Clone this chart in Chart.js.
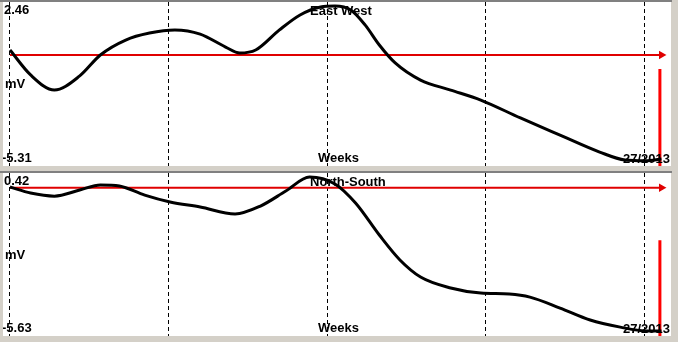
<!DOCTYPE html>
<html>
<head>
<meta charset="utf-8">
<script src="https://cdn.jsdelivr.net/npm/chart.js@4/dist/chart.umd.min.js"></script>
<style>
  html, body { margin:0; padding:0; }
  body { width:678px; height:342px; background:#d4d0c8; position:relative; overflow:hidden; }
  .topline { position:absolute; left:0; top:0; width:672px; height:2px; background:#808080; }
  .sep { position:absolute; left:0; top:171px; width:672px; height:2px; background:#808080; }
  .panel { position:absolute; left:3px; width:668px; background:#fff; }
  #p1 { top:2px; height:164px; }
  #p2 { top:173px; height:163px; }
  canvas { display:block; }
</style>
</head>
<body>
<div class="topline"></div>
<div class="sep"></div>
<div class="panel" id="p1"><canvas id="c1" width="668" height="164"></canvas></div>
<div class="panel" id="p2"><canvas id="c2" width="668" height="163"></canvas></div>
<script>
// ---- data ----
const titles = ['East West', 'North-South'];
const topLabels = ['2.46', '0.42'];
const bottomLabels = ['-5.31', '-5.63'];
const unitLabel = 'mV';
const xLabel = 'Weeks';
const dateLabel = '27/2013';

const weeksEW = [0.00,0.13,0.28,0.44,0.57,0.73,0.88,1.04,1.20,1.36,1.45,1.55,1.70,1.83,1.96,2.05,2.15,2.24,2.33,2.43,2.59,2.78,2.97,3.22,3.47,3.72,3.88,4.01,4.11];
const mvEW    = [0.25,-1.00,-1.76,-1.05,0.00,0.75,1.10,1.26,1.05,0.40,0.10,0.25,1.26,2.01,2.41,2.46,2.26,1.51,0.50,-0.40,-1.26,-1.76,-2.26,-3.16,-4.02,-4.87,-5.27,-5.31,-5.22];

const weeksNS = [0.00,0.13,0.28,0.44,0.57,0.69,0.85,1.01,1.20,1.42,1.58,1.74,1.89,2.05,2.18,2.33,2.46,2.59,2.78,2.97,3.15,3.28,3.47,3.66,3.85,4.01,4.11];
const mvNS    = [0.03,-0.21,-0.33,-0.09,0.11,0.07,-0.29,-0.56,-0.76,-1.03,-0.72,-0.13,0.42,0.15,-0.60,-1.86,-2.84,-3.51,-3.94,-4.14,-4.18,-4.30,-4.73,-5.20,-5.48,-5.63,-5.63];

const refLevel = [0, 0];
const refEndWeek = [4.11, 4.11];
const markerWeek = [4.10, 4.10];
const markerTop = [-0.70, -2.06];

const yRanges = [[-5.57, 2.66], [-5.83, 0.58]];
const xRange = [-0.044, 4.17];

const textPlugin = {
  id: 'panelText',
  afterDraw(chart, args, opts) {
    const ctx = chart.ctx;
    const a = chart.chartArea;
    ctx.save();
    ctx.fillStyle = '#000';
    ctx.font = 'bold 13px "Liberation Sans", Arial, sans-serif';
    ctx.textBaseline = 'alphabetic';
    ctx.textAlign = 'left';
    ctx.fillText(opts.top, a.left + 1, a.top + 12);
    ctx.fillText(opts.title, a.left + 307, a.top + 13);
    ctx.fillText(unitLabel, a.left + 2, a.top + 86);
    ctx.fillText(opts.bottom, a.left - 1, a.bottom - 4);
    ctx.fillText(xLabel, a.left + 315, a.bottom - 4);
    ctx.textAlign = 'right';
    ctx.fillText(dateLabel, a.right - 1, a.bottom - 3);
    ctx.restore();
  }
};

function makeChart(id, i, weeks, mv) {
  const curve = weeks.map((w, k) => ({x: w, y: mv[k]}));
  new Chart(document.getElementById(id), {
    type: 'line',
    data: {
      datasets: [
        { data: curve, borderColor: '#000', borderWidth: 3, pointRadius: 0, tension: 0.4, cubicInterpolationMode: 'monotone', order: 0 },
        { data: [{x: 0, y: refLevel[i]}, {x: refEndWeek[i], y: refLevel[i]}], borderColor: '#e00000', backgroundColor: '#e00000', borderWidth: 2, pointRadius: [0, 3], pointStyle: 'triangle', rotation: 90, order: 1 },
        { data: [{x: markerWeek[i], y: markerTop[i]}, {x: markerWeek[i], y: yRanges[i][0]}], borderColor: '#ff0000', borderWidth: 3, pointRadius: 0, order: 2 }
      ]
    },
    options: {
      responsive: false,
      animation: false,
      layout: { padding: 0, autoPadding: false },
      plugins: {
        legend: { display: false },
        tooltip: { enabled: false },
        panelText: { top: topLabels[i], bottom: bottomLabels[i], title: titles[i] }
      },
      scales: {
        x: { type: 'linear', min: xRange[0], max: xRange[1],
             ticks: { display: false, stepSize: 1, includeBounds: false },
             grid: { color: '#000', lineWidth: 1, drawTicks: false },
             border: { display: false, dash: [4, 3] } },
        y: { type: 'linear', display: false, min: yRanges[i][0], max: yRanges[i][1] }
      }
    },
    plugins: [textPlugin]
  });
}

makeChart('c1', 0, weeksEW, mvEW);
makeChart('c2', 1, weeksNS, mvNS);
</script>
</body>
</html>
